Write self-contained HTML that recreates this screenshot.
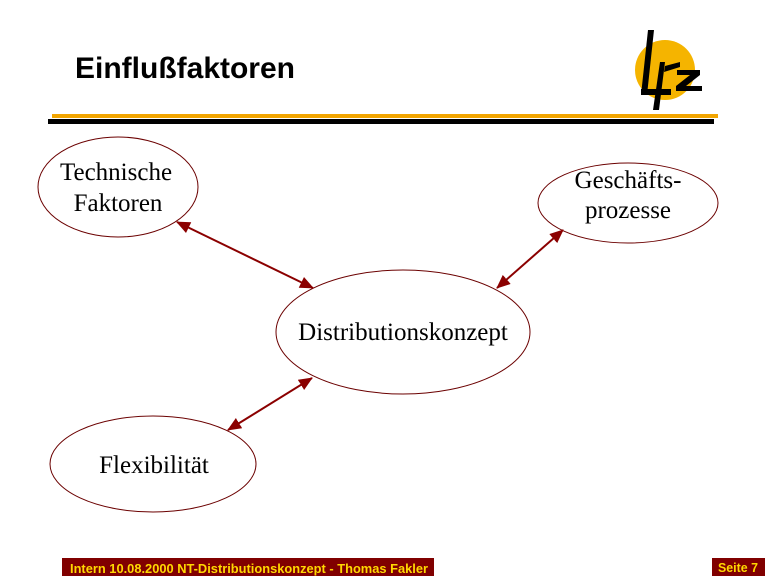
<!DOCTYPE html>
<html><head><meta charset="utf-8"><style>
body{margin:0;width:768px;height:576px;background:#fff;overflow:hidden;position:relative;font-family:"Liberation Serif",serif}
</style></head><body>
<svg width="768" height="576" style="position:absolute;left:0;top:0">
<defs>
<marker id="a" markerWidth="14" markerHeight="12" refX="13" refY="6" orient="auto-start-reverse" markerUnits="userSpaceOnUse">
<path d="M0,0 L14,6 L0,12 z" fill="#8b0000"/></marker>
</defs>
<text x="75" y="78" font-family="Liberation Sans" font-weight="bold" font-size="30" fill="#000" textLength="220">Einflußfaktoren</text>
<rect x="52" y="114" width="666" height="4" fill="#f2a500"/>
<rect x="48" y="119" width="666" height="5" fill="#000"/>
<circle cx="665" cy="70" r="30" fill="#f5b400"/>
<path d="M648,30 L654,30 L647,95 L641,95 Z" fill="#000"/>
<rect x="641" y="89" width="30" height="6" fill="#000"/>
<path d="M660,62 L665,62 L659,110 L653,110 Z" fill="#000"/>
<path d="M665,66 L680,62 L680,67 L664,72 Z" fill="#000"/>
<path d="M677,70 L700,70 L700,75 L686,86 L702,86 L702,91 L676,91 L676,86 L690,75 L677,75 Z" fill="#000"/>
<g fill="none" stroke="#6b0000" stroke-width="1">
<ellipse cx="118" cy="187" rx="80" ry="50"/>
<ellipse cx="628" cy="203" rx="90" ry="40"/>
<ellipse cx="403" cy="332" rx="127" ry="62"/>
<ellipse cx="153" cy="464" rx="103" ry="48"/>
</g>
<g stroke="#8b0000" stroke-width="2" marker-start="url(#a)" marker-end="url(#a)">
<line x1="177" y1="222" x2="313" y2="288"/>
<line x1="497" y1="288" x2="563" y2="230"/>
<line x1="228" y1="430" x2="312" y2="378"/>
</g>
<g font-size="25" fill="#000" text-anchor="middle">
<text x="116" y="180">Technische</text>
<text x="118" y="211">Faktoren</text>
<text x="628" y="188">Geschäfts-</text>
<text x="628" y="218">prozesse</text>
<text x="403" y="340">Distributionskonzept</text>
<text x="154" y="473">Flexibilität</text>
</g>
<rect x="62" y="558" width="372" height="18" fill="#800000"/>
<text x="70" y="573" font-family="Liberation Sans" font-weight="bold" font-size="13" fill="#ffd800" textLength="358" lengthAdjust="spacingAndGlyphs">Intern 10.08.2000 NT-Distributionskonzept - Thomas Fakler</text>
<rect x="712" y="558" width="53" height="18" fill="#800000"/>
<text x="738" y="572" text-anchor="middle" font-family="Liberation Sans" font-weight="bold" font-size="13" fill="#ffd800" textLength="40" lengthAdjust="spacingAndGlyphs">Seite 7</text>
</svg>
</body></html>
